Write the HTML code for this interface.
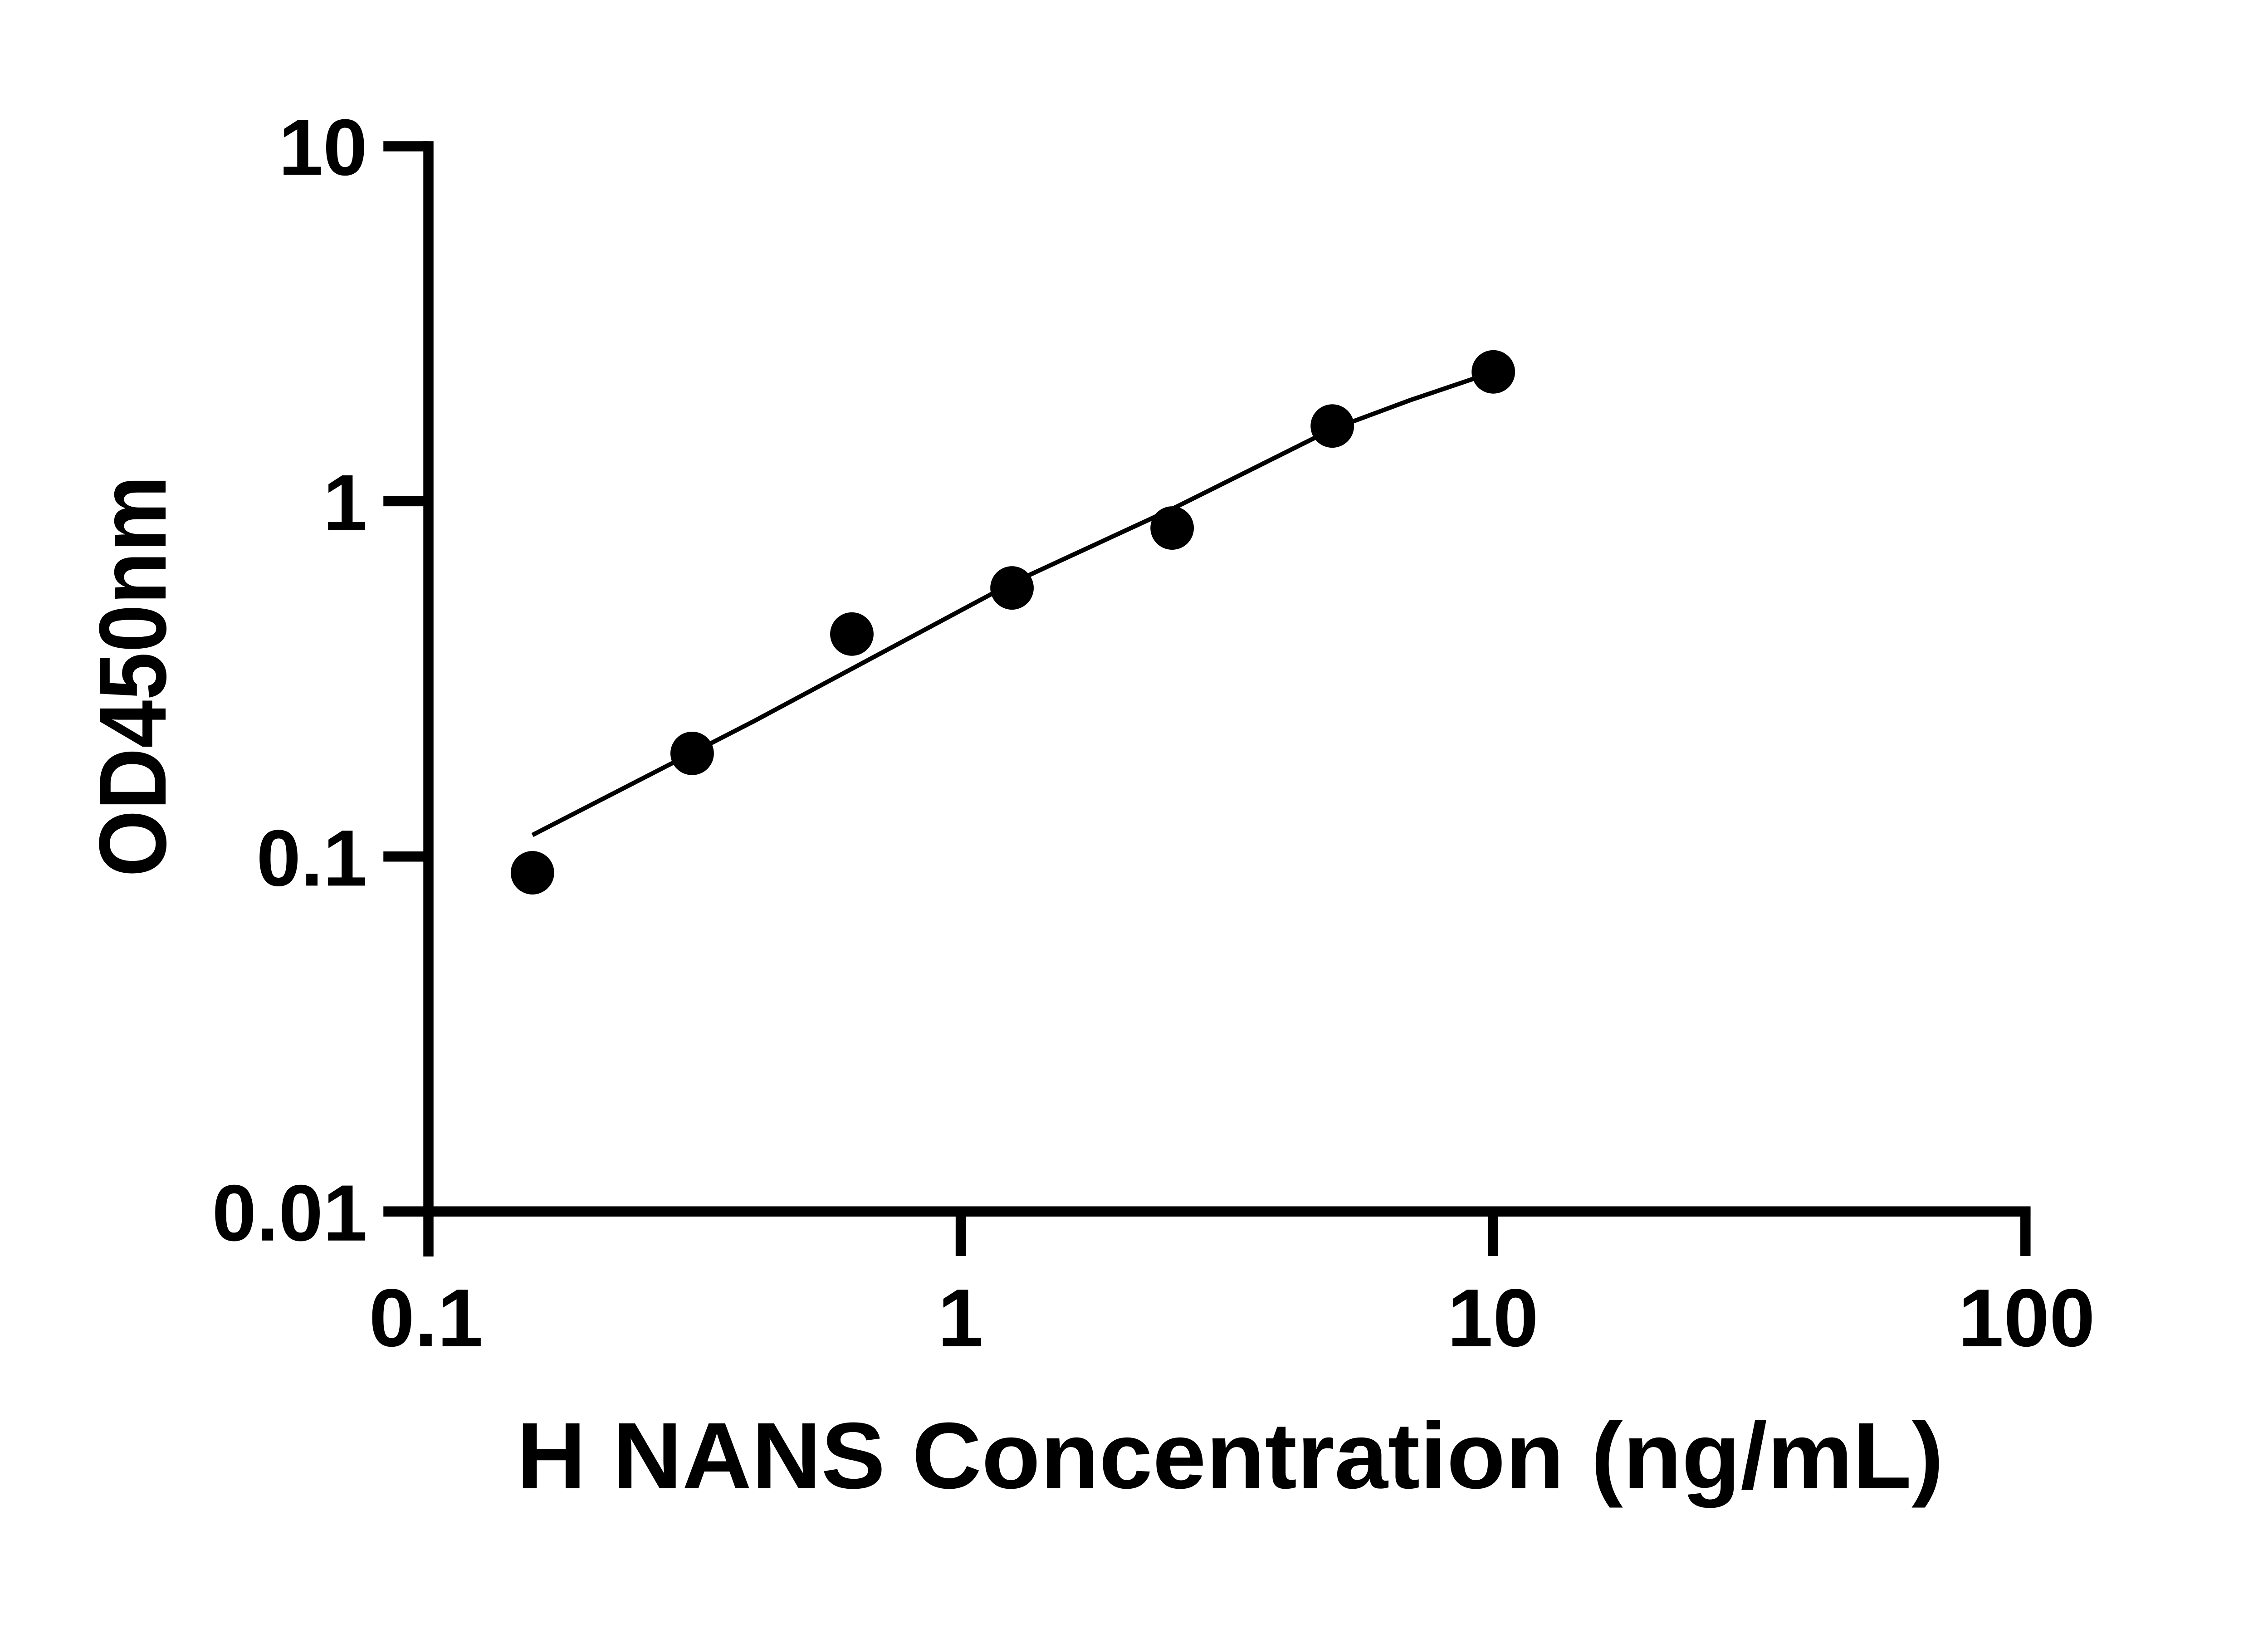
<!DOCTYPE html>
<html><head><meta charset="utf-8"><style>html,body{margin:0;padding:0;background:#fff}svg{display:block}</style></head>
<body>
<svg width="5108" height="3611" viewBox="0 0 5108 3611" xmlns="http://www.w3.org/2000/svg" font-family="Liberation Sans, Arial, sans-serif" font-weight="bold">
<rect width="5108" height="3611" fill="#fff"/>
<g transform="translate(944,322) scale(0.978) translate(-967,-335)">
<g fill="#000">
<rect x="956" y="324" width="23" height="2514"/>
<rect x="866" y="2725" width="3713" height="23"/>
<rect x="866" y="324" width="100" height="23"/>
<rect x="866" y="1124" width="100" height="23"/>
<rect x="866" y="1925" width="100" height="23"/>
<rect x="2156" y="2730" width="23" height="107"/>
<rect x="3356" y="2730" width="23" height="107"/>
<rect x="4556" y="2730" width="23" height="107"/>
</g>
<g font-size="180" text-anchor="end">
<text x="830" y="400">10</text>
<text x="830" y="1201">1</text>
<text x="830" y="2002">0.1</text>
<text x="830" y="2802">0.01</text>
</g>
<g font-size="185" text-anchor="middle">
<text x="962" y="3040">0.1</text>
<text x="2167" y="3040">1</text>
<text x="3367" y="3040">10</text>
<text x="4570" y="3040">100</text>
</g>
<text x="1166" y="3360" font-size="212" textLength="3217" lengthAdjust="spacingAndGlyphs">H NANS Concentration (ng/mL)</text>
<text transform="translate(375,1530) rotate(-90)" font-size="215" text-anchor="middle" textLength="905" lengthAdjust="spacingAndGlyphs">OD450nm</text>
<polyline fill="none" stroke="#000" stroke-width="10" points="1202,1888 1700,1632 2283,1320 2644,1153 3005,973 3180,908 3319,861 3368,844"/>
<g fill="#000">
<circle cx="1202" cy="1973" r="49"/>
<circle cx="1562" cy="1704" r="49"/>
<circle cx="1922" cy="1435" r="49"/>
<circle cx="2283" cy="1331" r="49"/>
<circle cx="2644" cy="1196" r="49"/>
<circle cx="3005" cy="966" r="49"/>
<circle cx="3368" cy="844" r="49"/>
</g>
</g>
</svg>
</body></html>
